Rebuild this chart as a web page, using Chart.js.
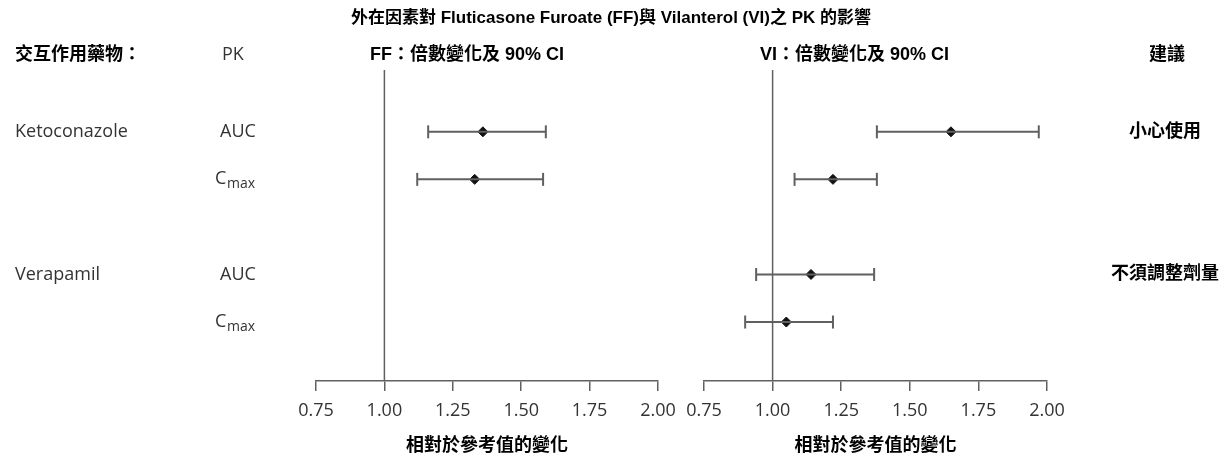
<!DOCTYPE html>
<html>
<head>
<meta charset="utf-8">
<script src="https://cdn.jsdelivr.net/npm/chart.js@4"></script>
<style>
  body { margin: 0; background: #fff; }
  #wrap { position: relative; width: 1222px; height: 458px; }
  #wrap canvas { position: absolute; left: 0; top: 0; }
</style>
</head>
<body>
<div id="wrap">
  <canvas id="ffChart" width="1222" height="458"></canvas>
  <canvas id="viChart" width="1222" height="458"></canvas>
</div>
<script>
// 資料：順序為 Ketoconazole AUC, Ketoconazole Cmax, Verapamil AUC, Verapamil Cmax
const drugs = ['Ketoconazole', 'Verapamil'];
const advice = ['小心使用', '不須調整劑量'];
const pkParams = ['AUC', 'Cmax'];
const ffRatio = [1.36, 1.33, null, null];
const ffLow   = [1.16, 1.12, null, null];
const ffHigh  = [1.59, 1.58, null, null];
const viRatio = [1.65, 1.22, 1.14, 1.05];
const viLow   = [1.38, 1.08, 0.94, 0.90];
const viHigh  = [1.97, 1.38, 1.37, 1.22];
const tickValues = [0.75, 1.00, 1.25, 1.50, 1.75, 2.00];

const boldFont = '"Liberation Sans", "Noto Sans CJK TC", sans-serif';
const grayFont = '"Open Sans", sans-serif';
const lineGray = '#606060';
const textGray = '#333';

// 每個藥物兩列，藥物之間空一列
const rowOf = i => Math.floor(i / 2) * 3 + (i % 2);

function buildDatasets(ratio, low, high) {
  const ds = [];
  // 參考線 x = 1.00
  ds.push({
    data: [{ x: 1, y: -5 }, { x: 1, y: 10 }],
    showLine: true, borderColor: lineGray, borderWidth: 1.5, pointRadius: 0
  });
  ratio.forEach((r, i) => {
    if (r == null) return;
    ds.push({
      data: [{ x: low[i], y: rowOf(i) }, { x: high[i], y: rowOf(i) }],
      showLine: true, borderColor: lineGray, borderWidth: 2,
      pointStyle: 'line', pointRotation: 90, pointRadius: 6.5,
      pointBorderColor: lineGray, pointBorderWidth: 2
    });
  });
  ds.push({
    data: ratio.map((r, i) => r == null ? null : { x: r, y: rowOf(i) }).filter(Boolean),
    pointStyle: 'rectRot', pointRadius: 5,
    backgroundColor: '#111', borderColor: '#111', borderWidth: 1
  });
  return ds;
}

const textPlugin = {
  id: 'pageText',
  afterDraw(chart) {
    const ctx = chart.ctx;
    const y = chart.scales.y;
    ctx.save();
    ctx.textBaseline = 'middle';
    ctx.fillStyle = '#000';

    ctx.font = 'bold 17px ' + boldFont;
    ctx.textAlign = 'center';
    ctx.fillText('外在因素對 Fluticasone Furoate (FF)與 Vilanterol (VI)之 PK 的影響', 611, 18);

    ctx.font = 'bold 18px ' + boldFont;
    ctx.textAlign = 'left';
    ctx.fillText('交互作用藥物：', 15, 55);
    ctx.fillText('FF：倍數變化及 90% CI', 370, 55);
    ctx.fillText('VI：倍數變化及 90% CI', 760, 55);
    ctx.textAlign = 'center';
    ctx.fillText('建議', 1167, 55);
    advice.forEach((a, d) => ctx.fillText(a, 1165, y.getPixelForValue(d * 3)));

    ctx.fillStyle = textGray;
    ctx.font = '18px ' + grayFont;
    ctx.textAlign = 'left';
    ctx.fillText('PK', 222, 55);
    drugs.forEach((name, d) => ctx.fillText(name, 15, y.getPixelForValue(d * 3)));
    for (let i = 0; i < drugs.length * pkParams.length; i++) {
      const py = y.getPixelForValue(rowOf(i));
      const p = pkParams[i % 2];
      ctx.font = '18px ' + grayFont;
      if (p === 'Cmax') {
        ctx.textAlign = 'left';
        ctx.fillText('C', 215, py);
        ctx.font = '14px ' + grayFont;
        ctx.fillText('max', 227, py + 5);
      } else {
        ctx.textAlign = 'center';
        ctx.fillText(p, 238, py);
      }
    }
    ctx.restore();
  }
};

function makeChart(id, ratio, low, high, padLeft, padRight, extra) {
  return new Chart(document.getElementById(id), {
    type: 'scatter',
    data: { datasets: buildDatasets(ratio, low, high) },
    options: {
      responsive: false,
      animation: false,
      layout: { padding: { left: padLeft, right: padRight, top: 70, bottom: 0 } },
      plugins: { legend: { display: false }, tooltip: { enabled: false } },
      scales: {
        x: {
          type: 'linear', min: 0.75, max: 2.0,
          afterBuildTicks: s => { s.ticks = tickValues.map(v => ({ value: v })); },
          afterFit: s => { s.height = 77; },
          ticks: {
            callback: v => Number(v).toFixed(2), color: textGray,
            font: { family: grayFont, size: 18 }, padding: 9,
            maxRotation: 0, autoSkip: false
          },
          grid: { drawOnChartArea: false, drawTicks: true, tickLength: 10, color: lineGray, lineWidth: 1.5 },
          border: { display: true, color: lineGray, width: 1.5 },
          title: {
            display: true, text: '相對於參考值的變化', color: '#000',
            font: { family: boldFont, size: 18, weight: 'bold' },
            padding: { top: 0, bottom: 1 }
          }
        },
        y: { type: 'linear', display: false, reverse: true, min: -1.3, max: 5.24 }
      }
    },
    plugins: extra ? [textPlugin] : []
  });
}

makeChart('ffChart', ffRatio, ffLow, ffHigh, 316, 1222 - 658, true);
makeChart('viChart', viRatio, viLow, viHigh, 704, 1222 - 1047, false);
</script>
</body>
</html>
